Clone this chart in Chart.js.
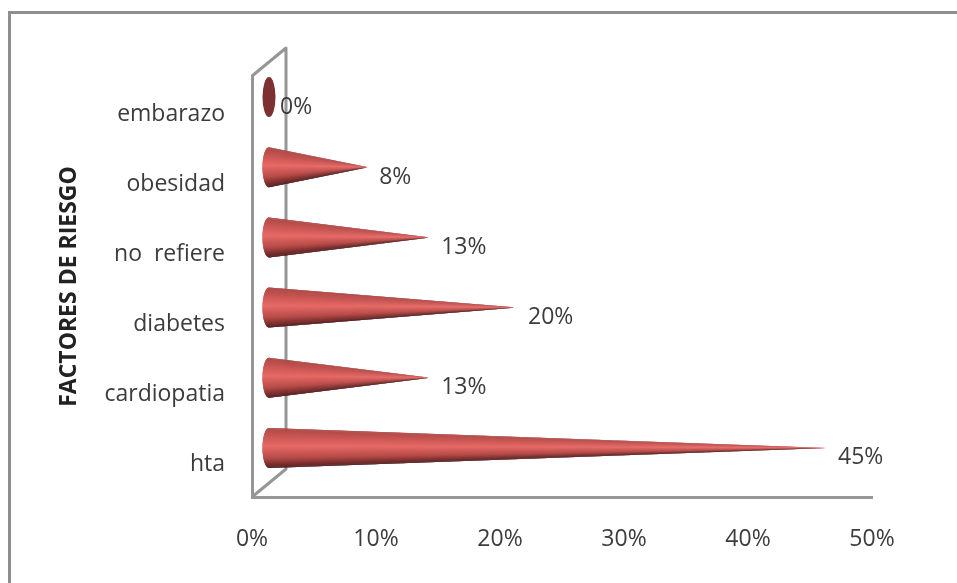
<!DOCTYPE html>
<html lang="es">
<head>
<meta charset="utf-8">
<title>Factores de riesgo</title>
<script src="https://cdn.jsdelivr.net/npm/chart.js@4"></script>
<style>
  html, body { margin: 0; padding: 0; background: #fff; overflow: hidden; }
  #wrap { width: 957px; height: 583px; }
</style>
</head>
<body>
<div id="wrap"><canvas id="riskChart" width="957" height="583"></canvas></div>
<script>
// Chart data
const categories = ['embarazo', 'obesidad', 'no  refiere', 'diabetes', 'cardiopatia', 'hta'];
const percentValues = [0, 8, 13, 20, 13, 45];
const percentTicks = [0, 10, 20, 30, 40, 50];
const axisTitle = 'FACTORES DE RIESGO';

// Look of the 3D box and cones
const FONT = '"Open Sans", sans-serif';
const TEXT_COLOR = '#3c3c3c';
const WALL_COLOR = '#969696';
const DEPTH_X = 34;
const DEPTH_Y = 28;
const CONE_RADIUS = 20;
const CONE_BASE_RX = 6.5;

// Colour across the cone, from top edge (0) to bottom edge (1)
const coneStops = [
  [0, [172, 72, 70]],
  [0.25, [208, 90, 87]],
  [0.45, [230, 106, 103]],
  [0.75, [184, 76, 73]],
  [0.92, [122, 46, 46]],
  [1, [84, 32, 34]]
];

function coneColor(t) {
  for (let i = 1; i < coneStops.length; i++) {
    if (t <= coneStops[i][0]) {
      const [t0, c0] = coneStops[i - 1];
      const [t1, c1] = coneStops[i];
      const f = (t - t0) / (t1 - t0);
      return `rgb(${c0.map((c, k) => Math.round(c + (c1[k] - c) * f)).join(',')})`;
    }
  }
  return 'rgb(84,32,34)';
}

// Outer frame and the side wall and floor of the box
const boxPlugin = {
  id: 'box',
  beforeDatasetsDraw(chart) {
    const { ctx, chartArea: area } = chart;
    ctx.save();
    ctx.strokeStyle = '#8e8e8e';
    ctx.lineWidth = 3;
    ctx.beginPath();
    ctx.moveTo(9.5, 583);
    ctx.lineTo(9.5, 12.5);
    ctx.lineTo(957, 12.5);
    ctx.stroke();

    ctx.strokeStyle = WALL_COLOR;
    ctx.lineWidth = 3;
    ctx.lineJoin = 'round';
    ctx.beginPath();
    ctx.moveTo(area.left, area.top);
    ctx.lineTo(area.left + DEPTH_X, area.top - DEPTH_Y);
    ctx.lineTo(area.left + DEPTH_X, area.bottom - DEPTH_Y);
    ctx.lineTo(area.left, area.bottom);
    ctx.stroke();
    ctx.restore();
  }
};

// Each bar is drawn as a cone lying on its side, pushed to the middle of the box depth.
// The fan wedges overlap a little so no seams show between them.
function drawCone(ctx, baseX, tipX, y) {
  const steps = 80;
  const point = (t) => {
    const a = -Math.PI / 2 - Math.PI * Math.min(t, 1);
    return [baseX + CONE_BASE_RX * Math.cos(a), y + CONE_RADIUS * Math.sin(a)];
  };
  for (let i = 0; i < steps; i++) {
    const [x0, y0] = point(i / steps);
    const [x1, y1] = point((i + 2.5) / steps);
    const t = (point((i + 0.5) / steps)[1] - y + CONE_RADIUS) / (2 * CONE_RADIUS);
    ctx.fillStyle = coneColor(Math.max(0, Math.min(1, t)));
    ctx.beginPath();
    ctx.moveTo(tipX, y);
    ctx.lineTo(x0, y0);
    ctx.lineTo(x1, y1);
    ctx.closePath();
    ctx.fill();
  }
}

const conePlugin = {
  id: 'cones',
  afterDatasetsDraw(chart) {
    const { ctx } = chart;
    const meta = chart.getDatasetMeta(0);
    const xScale = chart.scales.x;
    const offsetX = DEPTH_X / 2;
    const offsetY = DEPTH_Y / 2;
    ctx.save();
    meta.data.forEach((bar, i) => {
      const value = percentValues[i];
      const baseX = xScale.getPixelForValue(0) + offsetX;
      const tipX = xScale.getPixelForValue(value) + offsetX;
      const y = bar.y - offsetY;
      if (value === 0) {
        ctx.fillStyle = '#7c3032';
        ctx.beginPath();
        ctx.ellipse(baseX, y, CONE_BASE_RX, CONE_RADIUS, 0, 0, Math.PI * 2);
        ctx.fill();
      } else {
        drawCone(ctx, baseX, tipX, y);
      }
      ctx.fillStyle = TEXT_COLOR;
      ctx.font = '23px ' + FONT;
      ctx.textAlign = 'left';
      ctx.textBaseline = 'middle';
      ctx.fillText(value + '%', tipX + 11, bar.y - 4);
    });
    ctx.restore();
  }
};

new Chart(document.getElementById('riskChart'), {
  type: 'bar',
  data: {
    labels: categories,
    datasets: [{
      data: percentValues,
      backgroundColor: 'rgba(0,0,0,0)',
      borderWidth: 0
    }]
  },
  plugins: [boxPlugin, conePlugin],
  options: {
    indexAxis: 'y',
    responsive: false,
    animation: false,
    layout: { padding: { left: 0, top: 76, right: 85, bottom: 0 } },
    plugins: {
      legend: { display: false },
      tooltip: { enabled: false }
    },
    scales: {
      x: {
        min: 0,
        max: 50,
        afterFit(scale) { scale.height = 86; },
        afterBuildTicks(scale) { scale.ticks = percentTicks.map(value => ({ value })); },
        grid: { display: false },
        border: { color: WALL_COLOR, width: 3 },
        ticks: {
          padding: 21,
          maxRotation: 0,
          color: TEXT_COLOR,
          font: { family: FONT, size: 23 },
          callback: value => value + '%'
        }
      },
      y: {
        afterFit(scale) { scale.width = 252; },
        grid: { display: false },
        border: { color: WALL_COLOR, width: 3 },
        title: {
          display: true,
          text: axisTitle,
          color: '#222',
          padding: { top: 56, bottom: 0 },
          font: { family: FONT, size: 23, weight: 'bold' }
        },
        ticks: {
          padding: 19,
          labelOffset: 3,
          color: TEXT_COLOR,
          font: { family: FONT, size: 23 }
        }
      }
    }
  }
});
</script>
</body>
</html>
